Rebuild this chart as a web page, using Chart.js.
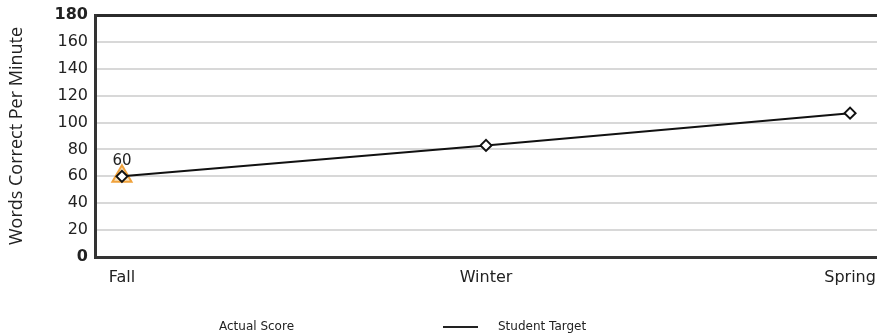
<!DOCTYPE html>
<html><head><meta charset="utf-8">
<script src="https://cdn.jsdelivr.net/npm/chart.js@4/dist/chart.umd.min.js"></script>
<style>html,body{margin:0;padding:0;background:#fff}#wrap{width:877px;height:335px}</style>
</head><body><div id="wrap"><canvas id="c"></canvas></div>
<script>
const categories = ["Fall", "Winter", "Spring"];
const actualScore = [60, null, null];
const studentTarget = [60, 83, 107];
const yTicks = [0, 20, 40, 60, 80, 100, 120, 140, 160, 180];
const seriesNames = ["Actual Score", "Student Target"];

const toXY = arr => arr.map((v, i) => v === null ? null : ({x: i, y: v})).filter(p => p);

const legendPlugin = {
  id: 'customLegend',
  afterDraw(chart) {
    const ctx = chart.ctx;
    ctx.save();
    ctx.font = '12px "DejaVu Sans"';
    ctx.fillStyle = '#222';
    ctx.textBaseline = 'middle';
    const y = 327;
    ctx.fillText(chart.data.datasets[0].label, 219, y);
    ctx.strokeStyle = '#222';
    ctx.lineWidth = 2;
    ctx.beginPath(); ctx.moveTo(443, y); ctx.lineTo(478, y); ctx.stroke();
    ctx.fillText(chart.data.datasets[1].label, 498, y);
    ctx.restore();
  }
};

const labelPlugin = {
  id: 'dataLabel',
  afterDatasetsDraw(chart) {
    const ctx = chart.ctx;
    const meta = chart.getDatasetMeta(0);
    ctx.save();
    ctx.font = '15px "DejaVu Sans"';
    ctx.fillStyle = '#222';
    ctx.textAlign = 'center';
    ctx.textBaseline = 'middle';
    meta.data.forEach((pt, i) => {
      const v = chart.data.datasets[0].data[i].y;
      ctx.fillText(String(v), pt.x, pt.y - 15);
    });
    ctx.restore();
  }
};

new Chart(document.getElementById('c'), {
  type: 'scatter',
  data: {
    datasets: [
      {
        label: seriesNames[0],
        data: toXY(actualScore),
        showLine: false,
        pointStyle: 'triangle',
        pointRadius: 11,
        pointBorderWidth: 2,
        borderColor: '#f0a23c',
        backgroundColor: 'rgba(248,205,140,0.6)',
        order: 2
      },
      {
        label: seriesNames[1],
        data: toXY(studentTarget),
        showLine: true,
        borderColor: '#111',
        borderWidth: 2,
        pointStyle: 'rectRot',
        pointRadius: 5.5,
        pointBorderWidth: 2,
        pointBackgroundColor: '#fff',
        pointBorderColor: '#111',
        order: 1
      }
    ]
  },
  plugins: [labelPlugin, legendPlugin],
  options: {
    responsive: true,
    maintainAspectRatio: false,
    animation: false,
    layout: {autoPadding: false, padding: {top: 15, right: 0, bottom: 48, left: 0}},
    plugins: {legend: {display: false}, tooltip: {enabled: false}},
    scales: {
      x: {
        type: 'linear',
        min: -0.074, max: 2.074,
        afterBuildTicks: s => { s.ticks = categories.map((c, i) => ({value: i})); },
        afterFit: s => { s.height = 30; s.paddingLeft = 0; s.paddingRight = 0; },
        grid: {display: false},
        border: {display: true, color: '#333', width: 3},
        ticks: {
          callback: v => categories[v],
          color: '#222',
          font: {family: 'DejaVu Sans', size: 16},
          padding: 3,
          maxRotation: 0,
          autoSkip: false
        }
      },
      y: {
        min: 0, max: 180,
        afterBuildTicks: s => { s.ticks = yTicks.map(v => ({value: v})); },
        afterFit: s => { s.width = 95; s.paddingTop = 0; s.paddingBottom = 0; },
        grid: {
          drawTicks: false,
          color: c => (c.tick.value === 0 || c.tick.value === 180) ? '#2b2b2b' : '#d8d8d8',
          lineWidth: c => (c.tick.value === 0 || c.tick.value === 180) ? 3 : 2
        },
        border: {display: true, color: '#333', width: 3},
        title: {
          display: true,
          text: 'Words Correct Per Minute',
          color: '#222',
          font: {family: 'Open Sans', size: 18},
          padding: {top: 6, bottom: 4}
        },
        ticks: {
          color: '#222',
          padding: 7,
          font: c => ({family: 'DejaVu Sans', size: 16, weight: (c.tick && (c.tick.value === 0 || c.tick.value === 180)) ? 'bold' : 'normal'})
        }
      }
    }
  }
});
</script>
</body></html>
